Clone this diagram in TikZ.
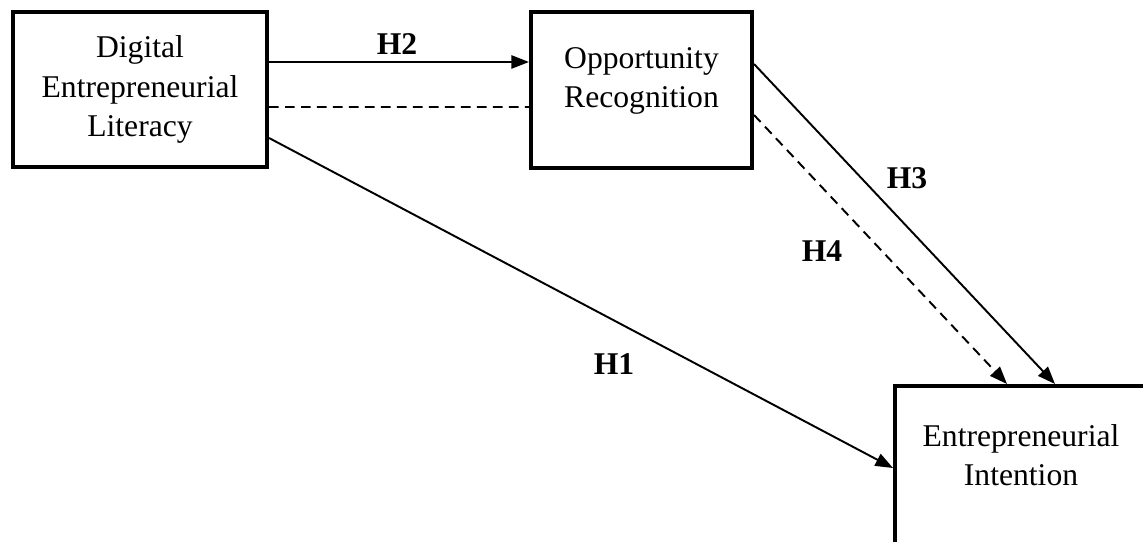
\documentclass[tikz,border=0pt]{standalone}
\usepackage{fontspec}
\setmainfont{Liberation Serif}
\usetikzlibrary{arrows.meta}
\tikzset{
  box/.style={draw, rectangle, line width=2.3pt, inner sep=0pt},
  lbl/.style={align=center, font=\fontsize{18}{22.4}\selectfont},
  hyp/.style={font=\fontsize{18}{22.4}\selectfont\bfseries},
  conn/.style={line width=1.1pt, -{Triangle[length=10pt,width=7.5pt]}},
  link/.style={line width=1.1pt, dash pattern=on 5.5pt off 3.6pt},
}
\begin{document}
\begin{tikzpicture}
    %\draw[help lines] (0,0) grid (23,11);
    \useasboundingbox (0,0) rectangle (22.86,10.82);
    \node[box, lbl, minimum width=5.08cm, minimum height=3.1cm] (del) at (2.8,9.03) {Digital\\Entrepreneurial\\Literacy};
    \node[box, minimum width=4.42cm, minimum height=3.12cm] (opp) at (12.83,9.02) {};
    \node[lbl] (opptext) at (12.83,9.2) {Opportunity\\Recognition};
    \node[box, minimum width=5.3cm, minimum height=3.2cm, anchor=north west] (ei) at (17.86,3.14) {};
    \node[lbl] (eitext) at (20.42,1.72) {Entrepreneurial\\Intention};
    \draw[conn] ([yshift=0.55cm]del.east) -- ([yshift=0.56cm]opp.west);
    \draw[link] ([yshift=-0.35cm]del.east) -- ([yshift=-0.34cm]opp.west);
    \draw[conn] ([yshift=-0.97cm]del.east) -- ([yshift=-1.68cm]ei.north west);
    \draw[conn] ([yshift=0.52cm]opp.east) -- ([xshift=3.24cm]ei.north west);
    \draw[link, -{Triangle[length=10pt,width=7.5pt]}] ([yshift=-0.5cm]opp.east) -- ([xshift=2.28cm]ei.north west);
    \node[hyp] (h2) at (7.94,9.94) {H2};
    \node[hyp] (h1) at (12.28,3.54) {H1};
    \node[hyp] (h3) at (18.14,7.26) {H3};
    \node[hyp] (h4) at (16.44,5.80) {H4};
\end{tikzpicture}
\end{document}
